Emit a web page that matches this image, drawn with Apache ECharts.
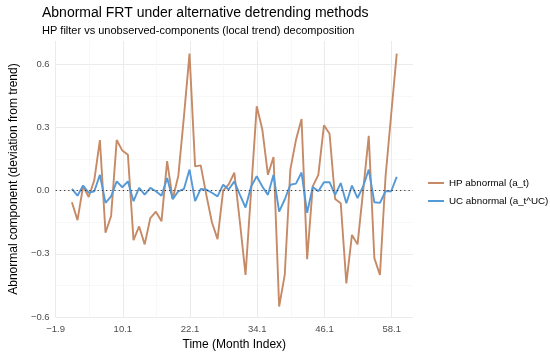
<!DOCTYPE html>
<html><head><meta charset="utf-8">
<script src="https://cdn.jsdelivr.net/npm/echarts@6/dist/echarts.min.js"></script>
<style>html,body{margin:0;padding:0;background:#fff}#c{width:550px;height:356px}</style>
</head><body><div id="c"></div>
<script>
const months = [1,2,3,4,5,6,7,8,9,10,11,12,13,14,15,16,17,18,19,20,21,22,23,24,25,26,27,28,29,30,31,32,33,34,35,36,37,38,39,40,41,42,43,44,45,46,47,48,49,50,51,52,53,54,55,56,57,58,59];
const hpAbnormal = [-0.055,-0.14,0.02,-0.03,0.05,0.24,-0.20,-0.12,0.24,0.19,0.17,-0.235,-0.17,-0.255,-0.13,-0.10,-0.145,0.14,-0.04,0.07,0.35,0.65,0.115,0.12,-0.02,-0.15,-0.23,0.0,0.03,0.085,-0.15,-0.40,0.0,0.40,0.29,0.075,0.16,-0.55,-0.40,0.10,0.24,0.34,-0.325,0.02,0.075,0.31,0.27,-0.04,-0.06,-0.44,-0.21,-0.255,0.0,0.26,-0.32,-0.40,0.067,0.36,0.65];
const ucAbnormal = [0.008,-0.024,0.024,-0.01,-0.003,0.075,-0.058,-0.027,0.044,0.016,0.044,-0.05,0.013,-0.019,0.013,-0.003,-0.024,0.06,-0.04,-0.003,0.008,0.10,-0.05,0.008,0.005,-0.01,-0.027,0.028,0.005,0.044,-0.02,-0.08,0.02,0.068,0.02,-0.02,0.075,-0.10,-0.042,0.028,0.033,0.086,-0.105,0.017,-0.003,0.04,0.04,-0.02,0.036,-0.06,0.024,-0.035,0.02,0.10,-0.055,-0.058,-0.003,-0.003,0.065];
const seriesNames = ['HP abnormal (a_t)', 'UC abnormal (a_t^UC)'];
const xRange = [-1.9, 61.9];
const yRange = [-0.6, 0.71];

const fmt = v => v.toFixed(1).replace('-', '\u2212');
const font = '"Liberation Sans", Arial, sans-serif';
const chart = echarts.init(document.getElementById('c'), null, {renderer: 'canvas'});
chart.setOption({
  backgroundColor: '#ffffff',
  animation: false,
  textStyle: {fontFamily: font},
  title: [
    {text: 'Abnormal FRT under alternative detrending methods', left: 37, top: 1,
     textStyle: {fontSize: 14, fontWeight: 'normal', color: '#000', fontFamily: font}},
    {text: 'HP filter vs unobserved-components (local trend) decomposition', left: 37, top: 20,
     textStyle: {fontSize: 11, fontWeight: 'normal', color: '#000', fontFamily: font}}
  ],
  grid: {left: 40, right: 137, top: 41, bottom: 38},
  legend: {
    orient: 'vertical', left: 428, top: 178, itemWidth: 16, itemHeight: 2, itemGap: 8,
    icon: 'rect', padding: 0,
    textStyle: {fontSize: 9.8, color: '#000', fontFamily: font},
    data: seriesNames
  },
  xAxis: {
    type: 'value', min: xRange[0], max: xRange[1], interval: 12,
    name: 'Time (Month Index)', nameLocation: 'middle', nameGap: 20,
    nameTextStyle: {fontSize: 12, color: '#000', fontFamily: font},
    axisLine: {show: false}, axisTick: {show: false},
    axisLabel: {color: '#4d4d4d', fontSize: 9.5, margin: 7, formatter: fmt, showMaxLabel: false},
    splitLine: {show: true, lineStyle: {color: '#ebebeb', width: 1}, showMaxLine: false},
    minorTick: {show: false, splitNumber: 2},
    minorSplitLine: {show: true, lineStyle: {color: '#f4f4f4', width: 0.6}}
  },
  yAxis: {
    type: 'value', min: yRange[0], max: yRange[1], interval: 0.3,
    name: 'Abnormal component (deviation from trend)', nameLocation: 'middle', nameGap: 30,
    nameTextStyle: {fontSize: 12, color: '#000', fontFamily: font},
    axisLine: {show: false}, axisTick: {show: false},
    axisLabel: {color: '#4d4d4d', fontSize: 9.5, margin: 6, formatter: fmt, showMaxLabel: false},
    splitLine: {show: true, lineStyle: {color: '#ebebeb', width: 1}, showMaxLine: false},
    minorTick: {show: false, splitNumber: 2},
    minorSplitLine: {show: true, lineStyle: {color: '#f4f4f4', width: 0.6}}
  },
  series: [
    {name: seriesNames[0], type: 'line', data: months.map((m, i) => [m, hpAbnormal[i]]),
     showSymbol: false, lineStyle: {color: '#c68a66', width: 1.9}, itemStyle: {color: '#c68a66'},
     markLine: {silent: true, symbol: 'none', label: {show: false},
       lineStyle: {type: [1.2, 3], color: '#333', width: 1.2}, data: [{yAxis: 0}]}},
    {name: seriesNames[1], type: 'line', data: months.map((m, i) => [m, ucAbnormal[i]]),
     showSymbol: false, lineStyle: {color: '#5599d6', width: 1.9}, itemStyle: {color: '#5599d6'}}
  ]
});
</script></body></html>
